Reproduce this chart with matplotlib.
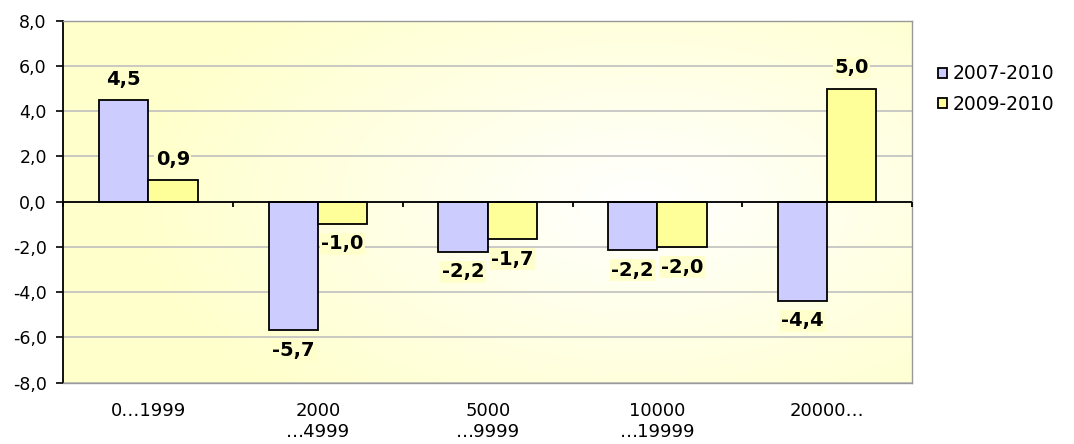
import numpy as np
from matplotlib import pyplot as plt
from matplotlib.colors import LinearSegmentedColormap

# Data
categories = ["0\u20261999", "2000\n\u20264999", "5000\n\u20269999", "10000\n\u202619999", "20000\u2026"]
series_names = ["2007-2010", "2009-2010"]
vals_0710 = [4.47, -5.69, -2.22, -2.16, -4.4]
vals_0910 = [0.95, -0.99, -1.66, -2.02, 4.99]
colors = ["#ccccff", "#ffff99"]

plt.rcParams['font.family'] = ['DejaVu Sans']

fig = plt.figure(figsize=(10.74, 4.44), dpi=100)
ax = fig.add_axes([0.0591, 0.1385, 0.79, 0.815])

# background gradient (white center -> light yellow edges)
gx, gy = np.meshgrid(np.linspace(0, 1, 300), np.linspace(0, 1, 200))
r = np.sqrt(((gx - 0.68) / 0.6) ** 2 + ((gy - 0.5) / 0.75) ** 2)
r = np.clip(r, 0, 1)
cmap = LinearSegmentedColormap.from_list("bg", ["#ffffff", "#ffffcc"])
ax.imshow(r, cmap=cmap, extent=[0, 1, 0, 1], transform=ax.transAxes,
          aspect='auto', zorder=0, origin='lower', vmin=0, vmax=1)

x = np.arange(len(categories))
w = 0.29
for i, (vals, name) in enumerate(zip([vals_0710, vals_0910], series_names)):
    pos = x + (i - 0.5) * w
    ax.bar(pos, vals, w, color=colors[i], edgecolor='black', linewidth=1.3,
           label=name, zorder=3)
    for px, v in zip(pos, vals):
        txt = f"{v:.1f}".replace('.', ',')
        off = 0.92 if v >= 0 else -0.88
        ax.text(px, v + off, txt, ha='center', va='center', fontsize=14,
                fontweight='bold', zorder=5,
                bbox=dict(facecolor='#ffffcc', edgecolor='none', pad=1.0))

ax.set_xlim(-0.5, len(categories) - 0.5)
ax.set_ylim(-8, 8)
ax.set_yticks(np.arange(-8, 8.1, 2))
ax.set_yticklabels([f"{t:.1f}".replace('.', ',') for t in np.arange(-8, 8.1, 2)])
ax.yaxis.grid(True, color='#c0c0c0', linewidth=1.2, zorder=1)
ax.set_axisbelow(True)

ax.set_xticks(x)
ax.set_xticklabels(categories, linespacing=1.2)
ax.tick_params(axis='x', length=0, pad=14, labelsize=13)
ax.tick_params(axis='y', length=5, width=1.2, pad=7, labelsize=12.5, direction='out')

# zero line and small tick marks between categories
ax.axhline(0, color='black', linewidth=1.3, zorder=4)
ax.vlines(np.arange(len(categories) + 1) - 0.5, -0.25, 0, color='black',
          linewidth=1.3, zorder=4, clip_on=False)

ax.spines['left'].set_color('black')
ax.spines['left'].set_linewidth(1.3)
for s in ['top', 'right', 'bottom']:
    ax.spines[s].set_color('#999999')
    ax.spines[s].set_linewidth(1.0)

leg = ax.legend(loc='upper left', bbox_to_anchor=(1.022, 0.9), frameon=False,
                fontsize=13.5, handlelength=0.45, handleheight=0.45,
                handletextpad=0.35, labelspacing=0.6, borderaxespad=0)

fig.savefig("out.png", dpi=100)
